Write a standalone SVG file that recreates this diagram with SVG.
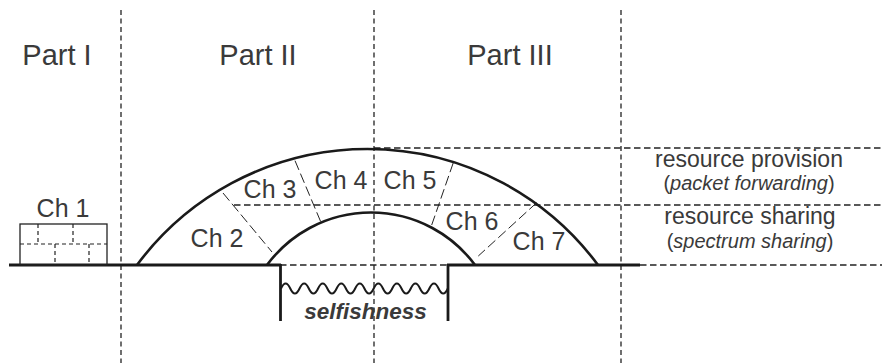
<svg xmlns="http://www.w3.org/2000/svg" width="882" height="363" viewBox="0 0 882 363">
<style>
.col{stroke:#222;stroke-width:1.3;stroke-dasharray:5 3.5;fill:none}
.hd{stroke:#222;stroke-width:1.3;stroke-dasharray:6.5 3.5;fill:none}
.rad{stroke:#222;stroke-width:1;stroke-dasharray:10 4;fill:none}
.thick{stroke:#1a1a1a;stroke-width:2.8;fill:none}
.arc{stroke:#1a1a1a;stroke-width:2.6;fill:none}
.small{stroke:#222;stroke-width:1.2;stroke-dasharray:4 3;fill:none}
text{font-family:"Liberation Sans",Arial,sans-serif;fill:#3a3a3a;text-anchor:middle}
.part{font-size:29px}
.ch{font-size:25px}
.lbl{font-size:23px}
.sub{font-size:20px}
.self{font-size:22.5px;font-weight:bold;font-style:italic}
</style>
<rect width="882" height="363" fill="#fff"/>
<g id="grid">
<line class="col" x1="121" y1="10" x2="121" y2="363"/>
<line class="col" x1="374" y1="10" x2="374" y2="363"/>
<line class="col" x1="621" y1="10" x2="621" y2="363"/>
<line class="hd" x1="374" y1="148" x2="882" y2="148"/>
<line class="hd" x1="234" y1="205" x2="882" y2="205"/>
<line class="hd" x1="280" y1="265" x2="448" y2="265"/>
<line class="hd" x1="640" y1="265" x2="882" y2="265"/>
</g>
<g id="parts">
<text class="part" x="57" y="65">Part I</text>
<text class="part" x="258" y="65">Part II</text>
<text class="part" x="510" y="65">Part III</text>
</g>
<g id="ground">
<line class="thick" x1="9" y1="265" x2="281" y2="265"/>
<line class="thick" x1="447" y1="265" x2="640" y2="265"/>
</g>
<g id="ch1">
<rect x="20" y="224" width="87" height="41" fill="none" stroke="#222" stroke-width="1.3"/>
<line class="small" x1="20" y1="244" x2="107" y2="244"/>
<line class="small" x1="38" y1="224" x2="38" y2="244"/>
<line class="small" x1="73" y1="224" x2="73" y2="244"/>
<line class="small" x1="55" y1="244" x2="55" y2="265"/>
<line class="small" x1="89" y1="244" x2="89" y2="265"/>
<text class="ch" x="63" y="217">Ch 1</text>
</g>
<g id="arch">
<path class="arc" d="M137,265 A287,287 0 0 1 598,265"/>
<path class="arc" d="M267,265 A129.3,129.3 0 0 1 475,265"/>
</g>
<g id="connectors">
<line class="rad" x1="223" y1="193" x2="272" y2="252"/>
<line class="rad" x1="295" y1="160.7" x2="320.7" y2="221.7"/>
<line class="rad" x1="453.3" y1="162.7" x2="431.7" y2="225"/>
<line class="rad" x1="536.7" y1="202.7" x2="478.3" y2="256"/>
</g>
<g id="chapters">
<text class="ch" x="217" y="247">Ch 2</text>
<text class="ch" x="270" y="198">Ch 3</text>
<text class="ch" x="341" y="189">Ch 4</text>
<text class="ch" x="410" y="189">Ch 5</text>
<text class="ch" x="472" y="230">Ch 6</text>
<text class="ch" x="539" y="250">Ch 7</text>
</g>
<g id="selfishness">
<line class="thick" x1="280.5" y1="264" x2="280.5" y2="321"/>
<line class="thick" x1="448" y1="264" x2="448" y2="321"/>
<path d="M281,288.5 q4.64,-10 9.27,0 t9.27,0 t9.27,0 t9.27,0 t9.27,0 t9.27,0 t9.27,0 t9.27,0 t9.27,0 t9.27,0 t9.27,0 t9.27,0 t9.27,0 t9.27,0 t9.27,0 t9.27,0 t9.27,0 t9.27,0" fill="none" stroke="#1a1a1a" stroke-width="2"/>
<text class="self" x="365.5" y="319">selfishness</text>
</g>
<g id="layers">
<text class="lbl" x="749" y="167">resource provision</text>
<text class="sub" x="749" y="190">(<tspan font-style="italic">packet forwarding</tspan>)</text>
<text class="lbl" x="750" y="224">resource sharing</text>
<text class="sub" x="750" y="248">(<tspan font-style="italic">spectrum sharing</tspan>)</text>
</g>
</svg>
